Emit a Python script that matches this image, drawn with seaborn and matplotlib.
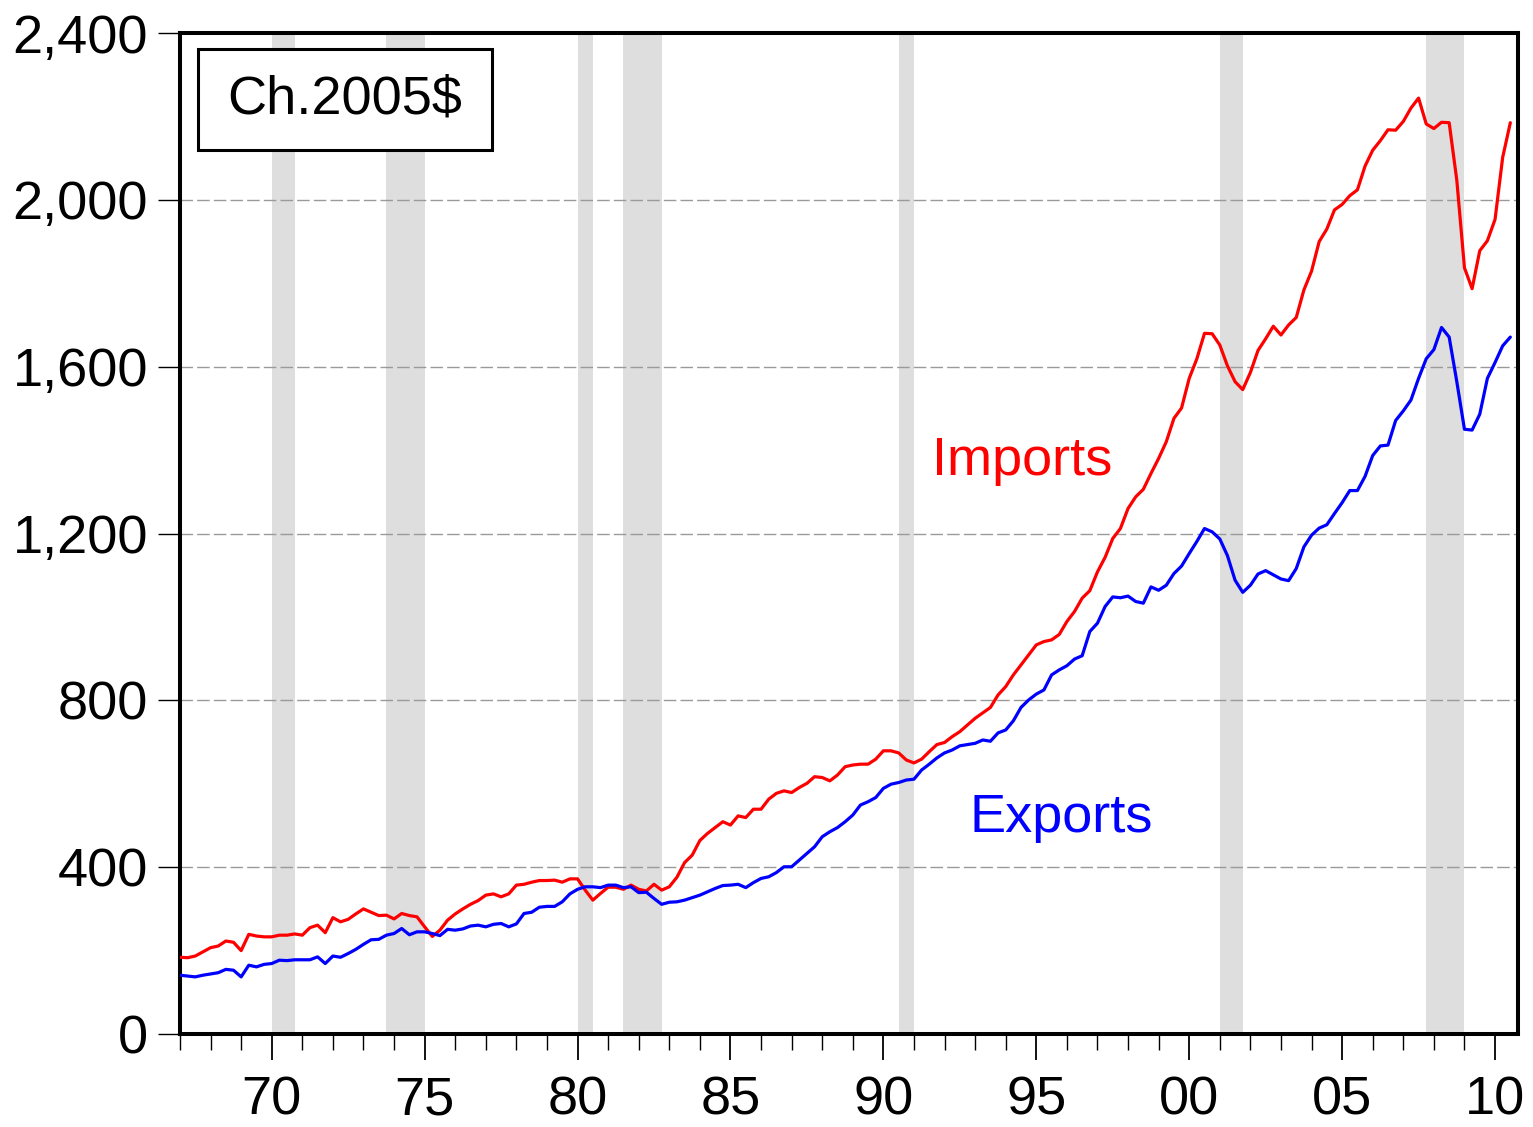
import numpy as np
import pandas as pd
import matplotlib
matplotlib.use("Agg")
import matplotlib.pyplot as plt
import matplotlib.ticker as mticker
from matplotlib.patches import Rectangle
import seaborn as sns

# quarterly, 1967Q1 - 2010Q3, billions of chained 2005 dollars
start_year = 1967
imports = [
    184, 183, 187, 197, 207, 211, 223, 220, 200, 239, 235, 233, 233, 237, 237, 240,
    237, 255, 261, 243, 279, 269, 275, 288, 300, 292, 284, 285, 276, 289, 284, 281,
    257, 234, 249, 273, 288, 300, 311, 320, 333, 336, 329, 336, 357, 359, 364, 368,
    368, 369, 364, 372, 372, 345, 321, 337, 352, 352, 347, 357, 347, 343, 359, 345,
    353, 376, 411, 429, 464, 481, 495, 509, 501, 523, 519, 539, 539, 563, 577, 583,
    579, 591, 601, 617, 615, 607, 621, 641, 645, 647, 647, 659, 679, 679, 674, 657,
    650, 659, 677, 694, 699, 713, 725, 741, 757, 770, 783, 813, 833, 861, 885, 909,
    933, 941, 945, 958, 989, 1013, 1045, 1063, 1108, 1143, 1188, 1212, 1260, 1288, 1306, 1344,
    1380, 1420, 1476, 1501, 1572, 1619, 1680, 1679, 1652, 1602, 1564, 1545, 1586, 1639, 1667, 1697,
    1676, 1700, 1718, 1784, 1829, 1900, 1930, 1976, 1989, 2010, 2024, 2081, 2119, 2142, 2168, 2167,
    2188, 2220, 2244, 2182, 2171, 2186, 2185, 2047, 1837, 1787, 1878, 1902, 1953, 2102, 2185,
]
exports = [
    141, 139, 137, 141, 144, 147, 155, 153, 137, 165, 161, 167, 169, 177, 176, 178,
    178, 178, 185, 169, 187, 184, 193, 203, 215, 226, 227, 237, 241, 253, 238, 245,
    245, 241, 236, 251, 249, 252, 259, 261, 257, 263, 265, 257, 264, 289, 292, 304,
    306, 306, 317, 336, 347, 353, 353, 351, 357, 357, 351, 353, 339, 340, 325, 311,
    316, 317, 321, 327, 333, 341, 349, 356, 357, 359, 351, 363, 373, 377, 387, 401,
    401, 417, 433, 449, 473, 485, 495, 509, 525, 549, 557, 567, 589, 599, 603, 609,
    611, 633, 647, 662, 674, 681, 691, 694, 697, 705, 702, 722, 729, 751, 783, 801,
    815, 825, 861, 873, 883, 899, 907, 965, 985, 1025, 1048, 1046, 1050, 1037, 1033, 1072,
    1064, 1076, 1104, 1122, 1152, 1181, 1212, 1204, 1187, 1147, 1088, 1059, 1076, 1103, 1111, 1101,
    1091, 1087, 1116, 1168, 1196, 1213, 1221, 1248, 1274, 1303, 1303, 1337, 1387, 1410, 1412, 1471,
    1494, 1520, 1572, 1619, 1641, 1694, 1671, 1564, 1450, 1448, 1486, 1572, 1610, 1650, 1671,
]

# NBER recessions (start, end) in decimal years
recessions = [(1970.0, 1970.75), (1973.75, 1975.0), (1980.0, 1980.5), (1981.5, 1982.75),
              (1990.5, 1991.0), (2001.0, 2001.75), (2007.75, 2009.0)]

df = pd.DataFrame({
    'year': start_year + np.arange(len(imports)) / 4,
    'Imports': imports,
    'Exports': exports,
})

sns.set_theme(style='white')
plt.rcParams['font.family'] = ['Liberation Sans', 'DejaVu Sans']
plt.rcParams['text.color'] = 'black'
fs = 39

fig = plt.figure(figsize=(15.33, 11.27), dpi=100)
ax = fig.add_axes([0.1174, 0.0825, 0.8728, 0.8882])

for a, b in recessions:
    ax.axvspan(a, b, color='#dedede', lw=0, zorder=0)

sns.lineplot(data=df, x='year', y='Imports', color='#ff0000', lw=2.3, ax=ax, zorder=3)
sns.lineplot(data=df, x='year', y='Exports', color='#0000ff', lw=2.3, ax=ax, zorder=3)

ax.set_xlim(1967, 2010.75)
ax.set_ylim(0, 2400)
ax.set_xlabel('')
ax.set_ylabel('')

ax.set_axisbelow(True)
ax.yaxis.grid(True, linestyle=(0, (9, 3)), color='#9a9a9a', lw=1)
ax.xaxis.grid(False)

ax.yaxis.set_major_locator(mticker.MultipleLocator(400))
ax.yaxis.set_major_formatter(mticker.FuncFormatter(lambda v, p: f'{v:,.0f}'))
ax.xaxis.set_major_locator(mticker.FixedLocator(list(range(1970, 2011, 5))))
ax.xaxis.set_minor_locator(mticker.MultipleLocator(1))
ax.xaxis.set_major_formatter(mticker.FuncFormatter(lambda v, p: f'{int(round(v)) % 100:02d}'))

ax.tick_params(axis='y', which='major', direction='out', length=16, width=1,
               labelsize=fs, pad=7, left=True, color='black', labelcolor='black')
ax.tick_params(axis='x', which='major', direction='out', length=19, width=1.3,
               labelsize=fs, pad=11, bottom=True, color='black', labelcolor='black')
ax.tick_params(axis='x', which='minor', direction='out', length=11.5, width=1, bottom=True,
               color='black')

for s in ax.spines.values():
    s.set_visible(True)
    s.set_color('black')
    s.set_linewidth(2.9)

ax.text(1991.58, 1340, 'Imports', color='#ff0000', fontsize=fs, ha='left', va='baseline')
ax.text(1992.82, 484, 'Exports', color='#0000ff', fontsize=fs, ha='left', va='baseline')

ax.add_patch(Rectangle((0.0135, 0.883), 0.2195, 0.101, transform=ax.transAxes,
                       fc='white', ec='black', lw=2.2, zorder=5))
ax.text(0.123, 0.9335, 'Ch.2005$', transform=ax.transAxes, fontsize=fs, color='black',
        ha='center', va='center', zorder=6)

fig.savefig('out.png', dpi=100)
